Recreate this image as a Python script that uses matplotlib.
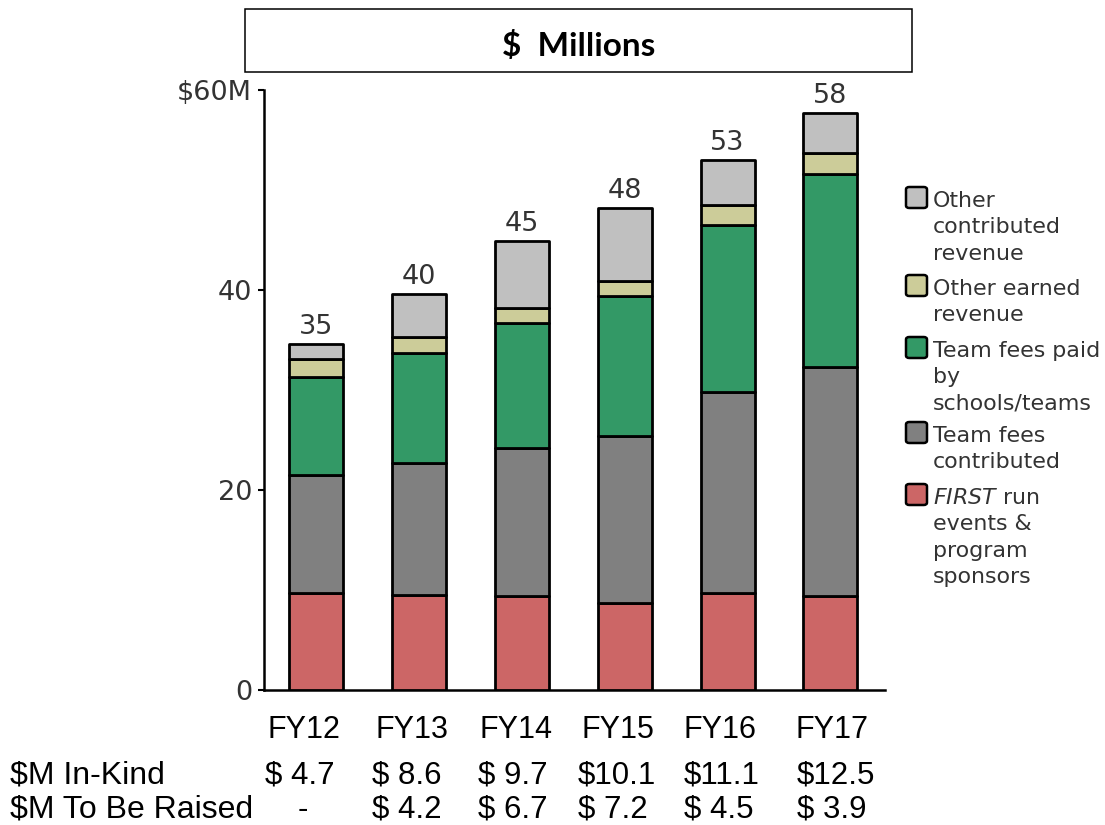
import matplotlib
matplotlib.use("Agg")
import matplotlib.pyplot as plt
from matplotlib.patches import Rectangle, FancyBboxPatch
import numpy as np

# ---- data ($ millions) ----
years = ["FY12", "FY13", "FY14", "FY15", "FY16", "FY17"]
program_sponsors = [9.7, 9.5, 9.4, 8.7, 9.7, 9.4]
team_fees_contributed = [11.8, 13.2, 14.8, 16.7, 20.1, 22.9]
team_fees_paid = [9.8, 11.0, 12.5, 14.0, 16.7, 19.3]
other_earned = [1.8, 1.6, 1.5, 1.5, 2.0, 2.1]
other_contributed = [1.5, 4.3, 6.7, 7.3, 4.5, 4.0]

in_kind = [4.7, 8.6, 9.7, 10.1, 11.1, 12.5]
to_be_raised = [None, 4.2, 6.7, 7.2, 4.5, 3.9]

y_ticks = [0, 20, 40, 60]
y_tick_labels = ["0", "20", "40", "$60M"]

series = [
    (program_sponsors, "#CC6666", ["$\\mathit{FIRST}$ run", "events &", "program", "sponsors"]),
    (team_fees_contributed, "#808080", ["Team fees", "contributed"]),
    (team_fees_paid, "#339966", ["Team fees paid", "by", "schools/teams"]),
    (other_earned, "#CCCC99", ["Other earned", "revenue"]),
    (other_contributed, "#C0C0C0", ["Other", "contributed", "revenue"]),
]

plt.rcParams["mathtext.fontset"] = "custom"
plt.rcParams["mathtext.it"] = "DejaVu Sans:italic"
plt.rcParams["mathtext.rm"] = "DejaVu Sans"

W, H = 1105, 825
TXT = "#333333"


def fx(px):
    return px / W


def fy(py):
    return 1 - py / H


fig = plt.figure(figsize=(W / 100, H / 100), dpi=100)
ax = fig.add_axes([fx(264), fy(690), fx(885) - fx(264), fy(90) - fy(690)])

x = np.arange(len(years))
bottom = np.zeros(len(years))
for vals, color, _ in series:
    ax.bar(x, vals, width=0.525, bottom=bottom, color=color,
           edgecolor="black", linewidth=2.0, joinstyle="round", zorder=3)
    bottom = bottom + np.array(vals)

totals = bottom
for xi, t in zip(x, totals):
    ax.annotate(f"{t:.0f}", (xi, t), xytext=(0, 7), textcoords="offset points",
                ha="center", va="baseline", fontsize=19.5, color=TXT,
                family="DejaVu Sans")

ax.set_xlim(-0.505, 5.53)
ax.set_ylim(0, 60)
ax.set_yticks(y_ticks)
ax.set_yticklabels(y_tick_labels)
ax.set_xticks([])
for s in ["top", "right"]:
    ax.spines[s].set_visible(False)
for s in ["left", "bottom"]:
    ax.spines[s].set_linewidth(1.8)
    ax.spines[s].set_color("black")
ax.tick_params(axis="y", direction="out", length=4.5, width=1.5, pad=4,
               labelsize=19.5, labelcolor=TXT)
for lab in ax.get_yticklabels():
    lab.set_family("DejaVu Sans")

# ---- title box ----
fig.add_artist(Rectangle((fx(245), fy(72)), fx(912) - fx(245), fy(9) - fy(72),
                         transform=fig.transFigure, facecolor="white",
                         edgecolor="black", linewidth=1.1))
fig.text(fx(578.5), fy(56), "$  Millions", ha="center", va="baseline",
         fontsize=24, fontweight="bold", family="Lato", color="black")

# ---- legend (top entry first) ----
patch_tops = [187, 275, 337, 422, 484]
line_step = 26.4
for (vals, color, lines), top in zip(series[::-1], patch_tops):
    fig.add_artist(FancyBboxPatch((fx(906), fy(top + 21)), fx(21), fy(top) - fy(top + 21),
                                  boxstyle="round,pad=0,rounding_size=0.003",
                                  transform=fig.transFigure, facecolor=color,
                                  edgecolor="black", linewidth=1.8))
    for i, line in enumerate(lines):
        fig.text(fx(933), fy(top + 20 + i * line_step), line, ha="left",
                 va="baseline", fontsize=15.9, color=TXT, family="DejaVu Sans")

# ---- table under the chart ----
fy_cols = [267, 375, 479, 582, 684, 795]
val_cols = [265, 372, 478, 578, 684, 797]
for col, name in zip(fy_cols, years):
    fig.text(fx(col), fy(738), name, ha="left", va="baseline", fontsize=22,
             family="Liberation Sans", color="black")

fig.text(fx(10), fy(783), "$M In-Kind", ha="left", va="baseline", fontsize=23,
         family="Liberation Sans", color="black")
fig.text(fx(10), fy(818), "$M To Be Raised", ha="left", va="baseline", fontsize=23,
         family="Liberation Sans", color="black")

for col, v in zip(val_cols, in_kind):
    fig.text(fx(col), fy(783), f"${v:4.1f}", ha="left", va="baseline",
             fontsize=22.5, family="Liberation Sans", color="black")
for col, v in zip(val_cols, to_be_raised):
    if v is None:
        fig.text(fx(col + 38), fy(818), "-", ha="center", va="baseline",
                 fontsize=22.5, family="Liberation Sans", color="black")
    else:
        fig.text(fx(col), fy(818), f"${v:4.1f}", ha="left", va="baseline",
                 fontsize=22.5, family="Liberation Sans", color="black")

fig.savefig("out.png", dpi=100)
